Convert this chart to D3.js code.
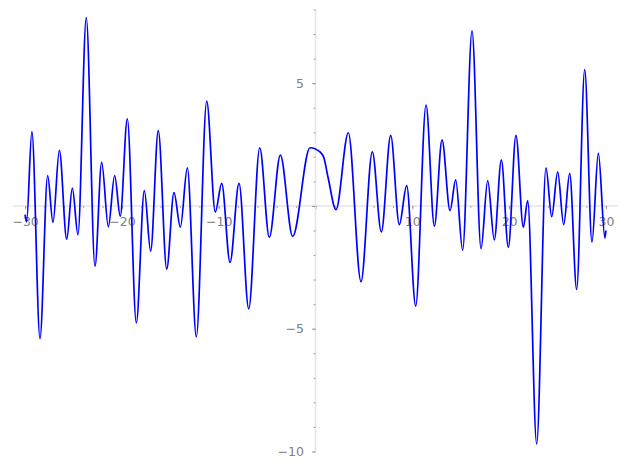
<!DOCTYPE html>
<html>
<head>
<meta charset="utf-8">
<script src="https://cdnjs.cloudflare.com/ajax/libs/d3/7.8.5/d3.min.js"></script>
<style>
  body { margin: 0; background: #fff; }
  svg { display: block; }
</style>
</head>
<body>
<svg class="line-graph"></svg>
<script>
// points: extremes and a few shoulder points
X_VALUES = [-30, -29.85, -29.3, -28.46, -27.67, -27.12, -26.46, -25.7, -25.12, -24.54,
    -23.68, -22.78, -22.09, -21.4, -20.75, -20.17, -19.44, -18.51, -17.68, -17.03,
    -16.24, -15.37, -14.62, -13.96, -13.24, -12.31, -11.24, -10.35, -9.69, -8.83,
    -7.9, -6.9, -5.76, -4.77, -3.63, -2.36, -0.57, 0.46, 0.85, 1.32,
    2.12, 3.39, 4.7, 5.87, 6.8, 7.77, 8.66, 9.42, 10.35, 11.42,
    12.28, 13.07, 13.9, 14.48, 15.2, 16.17, 17.1, 17.79, 18.47, 19.2,
    19.92, 20.71, 21.47, 21.92, 22.85, 23.81, 24.4, 25.02, 25.64, 26.26,
    26.98, 27.81, 28.56, 29.22, 29.9, 30];
Y_VALUES = [-0.35, -0.65, 3.03, -5.40, 1.24, -0.67, 2.26, -1.36, 0.73, -1.17,
    7.67, -2.46, 1.78, -0.85, 1.24, -0.42, 3.55, -4.76, 0.62, -1.84,
    3.07, -2.57, 0.54, -0.86, 1.55, -5.33, 4.27, -0.25, 0.92, -2.30,
    0.92, -4.19, 2.37, -1.28, 2.07, -1.24, 2.37, 2.2, 1.98, 1.12,
    -0.15, 2.98, -3.08, 2.2, -1.06, 2.87, -0.76, 0.83, -4.08, 4.11,
    -0.82, 2.69, -0.19, 1.06, -1.80, 7.13, -1.74, 1.03, -1.38, 1.88,
    -1.69, 2.87, -0.87, 0.22, -9.69, 1.55, -0.44, 1.39, -0.76, 1.33,
    -3.4, 5.55, -1.47, 2.15, -1.31, -1.0];

X_MAJOR = [-30, -20, -10, 0, 10, 20, 30];
X_MINOR = d3.range(-30, 31, 2);
Y_MAJOR = [-10, -5, 0, 5];
Y_MINOR = d3.range(-10, 9, 1);

X_DOMAIN = [-31.25, 31.25];
Y_DOMAIN = [-10, 8];

WIDTH = 627;
HEIGHT = 469;

TICK_COLOR = "#8c8c8c";
LABEL_COLOR = "#808080";
SPINE_COLOR = "#e6e6e6";

function buildChart() {
    data = X_VALUES.map(function(x, i) { return {x: x, y: Y_VALUES[i]}; });
    svg = d3.select(".line-graph").attr("width", WIDTH).attr("height", HEIGHT);
    xScale = d3.scaleLinear().domain(X_DOMAIN).range([13, 618]);
    yScale = d3.scaleLinear().domain(Y_DOMAIN).range([451.5, 9.5]);
    addXAxis(svg, xScale, yScale);
    addYAxis(svg, xScale, yScale);
    addLine(svg, data, xScale, yScale);
}

function fmt(d) {
    if (d === 0) return "";
    return (d < 0 ? "\u2212" : "") + Math.abs(d);
}

function styleAxis(g) {
    g.select(".domain").remove();
    g.selectAll(".tick line").attr("stroke", TICK_COLOR).attr("stroke-width", 0.8);
    g.selectAll(".tick text")
        .attr("fill", LABEL_COLOR)
        .style("font-family", "DejaVu Sans, sans-serif")
        .style("font-size", "12.5px");
}

function addXAxis(svg, xScale, yScale) {
    y0 = yScale(0);
    svg.append("line")
        .attr("x1", xScale.range()[0]).attr("x2", xScale.range()[1])
        .attr("y1", y0).attr("y2", y0)
        .attr("stroke", SPINE_COLOR).attr("stroke-width", 1.6);

    svg.append("g")
        .attr("transform", "translate(0," + y0 + ")")
        .call(d3.axisBottom(xScale).tickValues(X_MINOR).tickSize(2).tickFormat(""))
        .call(styleAxis);

    svg.append("g")
        .attr("transform", "translate(0," + y0 + ")")
        .call(d3.axisBottom(xScale).tickValues(X_MAJOR).tickSize(3.5).tickPadding(8).tickFormat(fmt))
        .call(styleAxis);
}

function addYAxis(svg, xScale, yScale) {
    x0 = xScale(0);
    svg.append("line")
        .attr("x1", x0).attr("x2", x0)
        .attr("y1", yScale(Y_DOMAIN[0])).attr("y2", yScale(Y_DOMAIN[1]))
        .attr("stroke", SPINE_COLOR).attr("stroke-width", 1.6);

    svg.append("g")
        .attr("transform", "translate(" + x0 + ",0)")
        .call(d3.axisLeft(yScale).tickValues(Y_MINOR).tickSize(2).tickFormat(""))
        .call(styleAxis);

    svg.append("g")
        .attr("transform", "translate(" + x0 + ",0)")
        .call(d3.axisLeft(yScale).tickValues(Y_MAJOR).tickSize(3.5).tickPadding(8).tickFormat(fmt))
        .call(styleAxis);
}

function addLine(svg, data, xScale, yScale) {
    line = d3.line()
        .x(function(d) { return xScale(d.x); })
        .y(function(d) { return yScale(d.y); })
        .curve(d3.curveMonotoneX);

    svg.append("path")
        .datum(data)
        .attr("fill", "none")
        .attr("stroke", "#0000ff")
        .attr("stroke-width", 1.7)
        .attr("stroke-linejoin", "round")
        .attr("d", line);
}

buildChart();
</script>
</body>
</html>
